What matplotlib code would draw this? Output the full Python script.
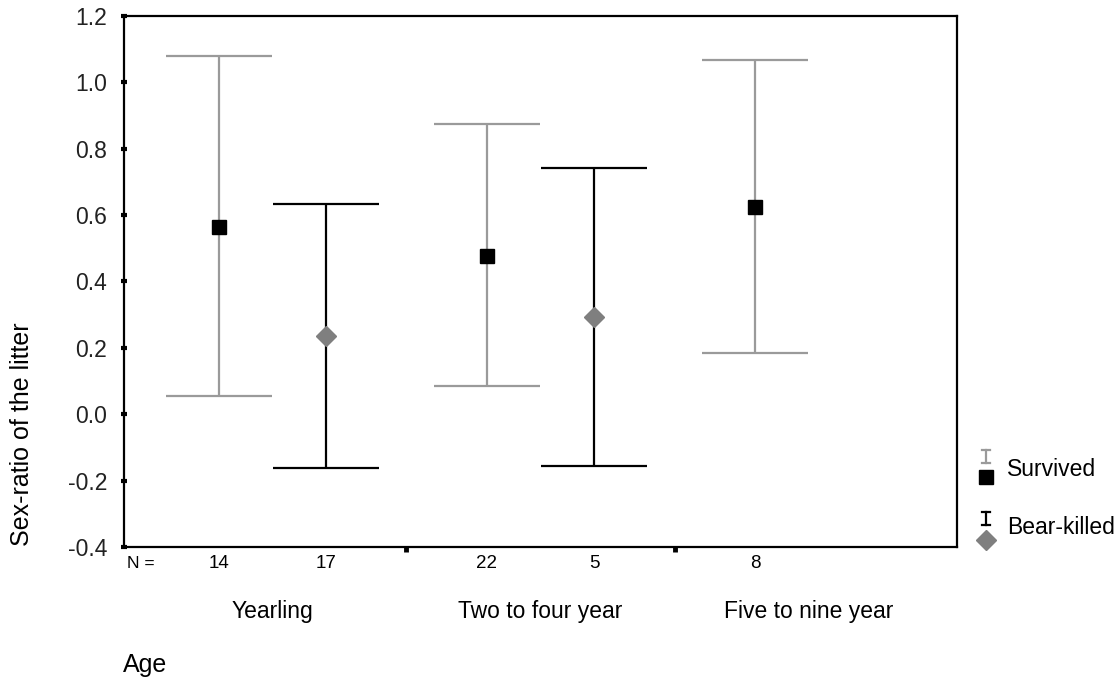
import numpy as np
import matplotlib
matplotlib.use("Agg")
import matplotlib.pyplot as plt
from matplotlib.lines import Line2D

plt.rcParams['font.family'] = ['Liberation Sans', 'DejaVu Sans']
plt.rcParams['axes.unicode_minus'] = False

groups = ["Yearling", "Two to four year", "Five to nine year"]

surv_mean = [0.564, 0.476, 0.625]
surv_lo = [0.055, 0.086, 0.183]
surv_hi = [1.080, 0.874, 1.066]
surv_n = [14, 22, 8]

bear_mean = [0.235, 0.292]
bear_lo = [-0.162, -0.155]
bear_hi = [0.632, 0.741]
bear_n = [17, 5]

yticks = [-0.4, -0.2, 0.0, 0.2, 0.4, 0.6, 0.8, 1.0, 1.2]

light = '#9a9a9a'
dia = '#7f7f7f'

fig = plt.figure(figsize=(11.2, 6.83), dpi=100)
ax = fig.add_axes([0.1107, 0.199, 0.7438, 0.778])

xs = np.arange(len(groups)) - 0.2
xb = np.arange(len(bear_mean)) + 0.2
sm = np.array(surv_mean)
bm = np.array(bear_mean)

ax.errorbar(xs, sm, yerr=[sm - np.array(surv_lo), np.array(surv_hi) - sm],
            fmt='none', ecolor=light, elinewidth=1.6, capsize=38, capthick=1.6)
ax.errorbar(xb, bm, yerr=[bm - np.array(bear_lo), np.array(bear_hi) - bm],
            fmt='none', ecolor='black', elinewidth=1.6, capsize=38, capthick=1.6)
ax.plot(xs, sm, 's', color='black', markersize=10.5, linestyle='none', zorder=5)
ax.plot(xb, bm, 'D', color=dia, markersize=10, linestyle='none', zorder=5)

ax.set_xlim(-0.553, 2.553)
ax.set_ylim(-0.4, 1.2)
ax.set_yticks(yticks)
ax.set_yticklabels(['%.1f' % v for v in yticks], fontsize=16.5, color='#222222')
ax.set_xticks([0.5, 1.5])
ax.set_xticklabels([])
ax.tick_params(axis='y', direction='inout', length=4, width=3, pad=10)
ax.tick_params(axis='x', direction='out', length=3.5, width=3.5)
for s in ax.spines.values():
    s.set_linewidth(1.6)

# N labels and group names under the axis
tr = ax.get_xaxis_transform()
ax.text(-0.49, -0.03, "N =", transform=tr, ha='center', va='center', fontsize=12.5)
for x, n in zip(xs, surv_n):
    ax.text(x, -0.03, str(n), transform=tr, ha='center', va='center', fontsize=13.5)
for x, n in zip(xb, bear_n):
    ax.text(x, -0.03, str(n), transform=tr, ha='center', va='center', fontsize=13.5)
for i, g in enumerate(groups):
    ax.text(i, -0.122, g, transform=tr, ha='center', va='center', fontsize=16.5)

fig.text(0.110, 0.026, "Age", ha='left', va='center', fontsize=18)
fig.text(0.02, 0.365, "Sex-ratio of the litter", rotation=90, ha='center',
         va='center', fontsize=18)


# legend drawn by hand
def ibeam(xc, y0, y1, color):
    w = 0.0035
    fig.add_artist(Line2D([xc, xc], [y0, y1], color=color, lw=1.6, transform=fig.transFigure))
    for y in (y0, y1):
        fig.add_artist(Line2D([xc - w, xc + w], [y, y], color=color, lw=1.6,
                              transform=fig.transFigure))


ibeam(0.880, 0.322, 0.341, light)
fig.add_artist(Line2D([0.880], [0.3016], marker='s', color='black', markersize=10.5,
                      transform=fig.transFigure))
fig.text(0.899, 0.312, "Survived", ha='left', va='center', fontsize=16.5)

ibeam(0.880, 0.231, 0.251, 'black')
fig.add_artist(Line2D([0.880], [0.209], marker='D', color=dia, markersize=10,
                      transform=fig.transFigure))
fig.text(0.899, 0.228, "Bear-killed", ha='left', va='center', fontsize=16.5)

fig.savefig("out.png", dpi=100)
